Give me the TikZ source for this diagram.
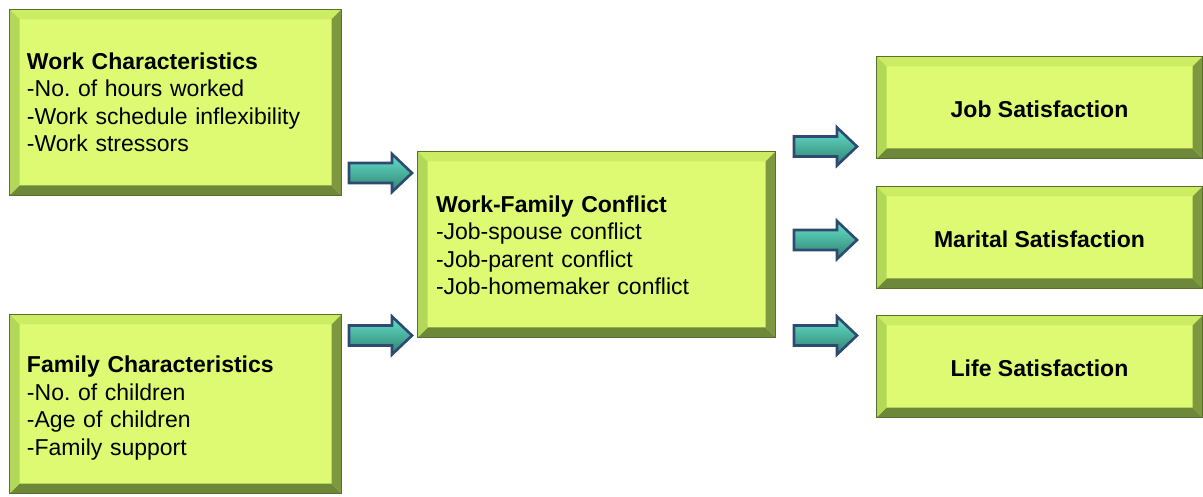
\documentclass[tikz,border=0pt]{standalone}
\usepackage{fontspec}
\setmainfont{Liberation Sans}
\frenchspacing
\definecolor{boxfill}{RGB}{221,250,114}
\definecolor{bevtop}{RGB}{204,236,100}
\definecolor{bevleft}{RGB}{178,216,88}
\definecolor{bevright}{RGB}{126,152,64}
\definecolor{bevbot}{RGB}{110,136,58}
\definecolor{boxline}{RGB}{88,112,44}
\definecolor{arrline}{RGB}{46,74,114}
\definecolor{arrmid}{RGB}{92,236,208}
\definecolor{arrtop}{RGB}{100,226,206}
\definecolor{arrbot}{RGB}{48,128,108}
\tikzset{
  panel/.style={draw=boxline, line width=1pt, fill=boxfill, rectangle, inner sep=0pt},
  leftpanel/.style={panel, minimum width=#1},
  centerpanel/.style={panel, minimum width=325pt, minimum height=101pt},
  paneltext/.style={font=\fontsize{23}{27.5}\selectfont, inner sep=0pt},
  blockarrow/.style={draw=arrline, line width=2.6pt, line join=miter,
    top color=arrtop, middle color=arrmid, bottom color=arrbot}
}
\newcommand\bevelit[1]{%
  \fill[bevtop] (#1.north west) -- (#1.north east) -- ([shift={(-10pt,-10pt)}]#1.north east) -- ([shift={(10pt,-10pt)}]#1.north west) -- cycle;
  \fill[bevbot] (#1.south west) -- (#1.south east) -- ([shift={(-10pt,10pt)}]#1.south east) -- ([shift={(10pt,10pt)}]#1.south west) -- cycle;
  \fill[bevleft] (#1.north west) -- (#1.south west) -- ([shift={(10pt,10pt)}]#1.south west) -- ([shift={(10pt,-10pt)}]#1.north west) -- cycle;
  \fill[bevright] (#1.north east) -- (#1.south east) -- ([shift={(-10pt,10pt)}]#1.south east) -- ([shift={(-10pt,-10pt)}]#1.north east) -- cycle;
  \draw[boxline, line width=1pt] (#1.north west) rectangle (#1.south east);
}
\newcommand\blockarr[1]{%
  \draw[blockarrow] ([shift={(1pt,-10pt)}]#1) -- ++(43pt,0pt) -- ++(0pt,-9pt) -- ++(20pt,19pt) -- ++(-20pt,19pt) -- ++(0pt,-9pt) -- ++(-43pt,0pt) -- cycle;
}
\begin{document}
\begin{tikzpicture}[x=1pt,y=1pt]
\useasboundingbox[fill=white] (0,0) rectangle (1203,496);
\node[leftpanel=331pt, minimum height=185pt] (work) at (175.5,393.5) {};
\node[leftpanel=331pt, minimum height=178pt] (family) at (175.5,92) {};
\node[leftpanel=357pt, minimum height=185pt] (wfc) at (596.5,251.5) {};
\node[centerpanel] (job) at (1039.5,388.5) {};
\node[centerpanel] (marital) at (1039.5,258.5) {};
\node[centerpanel] (life) at (1039.5,129.5) {};
\bevelit{work}
\bevelit{family}
\bevelit{wfc}
\bevelit{job}
\bevelit{marital}
\bevelit{life}
\node[paneltext, align=left, text width=297pt] (worktext) at (work.center)
  {\textbf{Work Characteristics}\\-No. of hours worked\\-Work schedule inflexibility\\-Work stressors};
\node[paneltext, align=left, text width=297pt] (familytext) at ([yshift=-4pt]family.center)
  {\textbf{Family Characteristics}\\-No. of children\\-Age of children\\-Family support};
\node[paneltext, align=left, text width=321pt] (wfctext) at ([yshift=-1pt]wfc.center)
  {\textbf{Work-Family Conflict}\\-Job-spouse conflict\\-Job-parent conflict\\-Job-homemaker conflict};
\node[paneltext] (jobtext) at ([yshift=-2pt]job.center) {\textbf{Job Satisfaction}};
\node[paneltext] (maritaltext) at ([yshift=-2pt]marital.center) {\textbf{Marital Satisfaction}};
\node[paneltext] (lifetext) at ([yshift=-2pt]life.center) {\textbf{Life Satisfaction}};
% arrows
\coordinate (a1) at (348,323);
\coordinate (a2) at (348,160.5);
\coordinate (a3) at (793,349.5);
\coordinate (a4) at (793,256);
\coordinate (a5) at (793,160.5);
\blockarr{a1}
\blockarr{a2}
\blockarr{a3}
\blockarr{a4}
\blockarr{a5}
\end{tikzpicture}
\end{document}
